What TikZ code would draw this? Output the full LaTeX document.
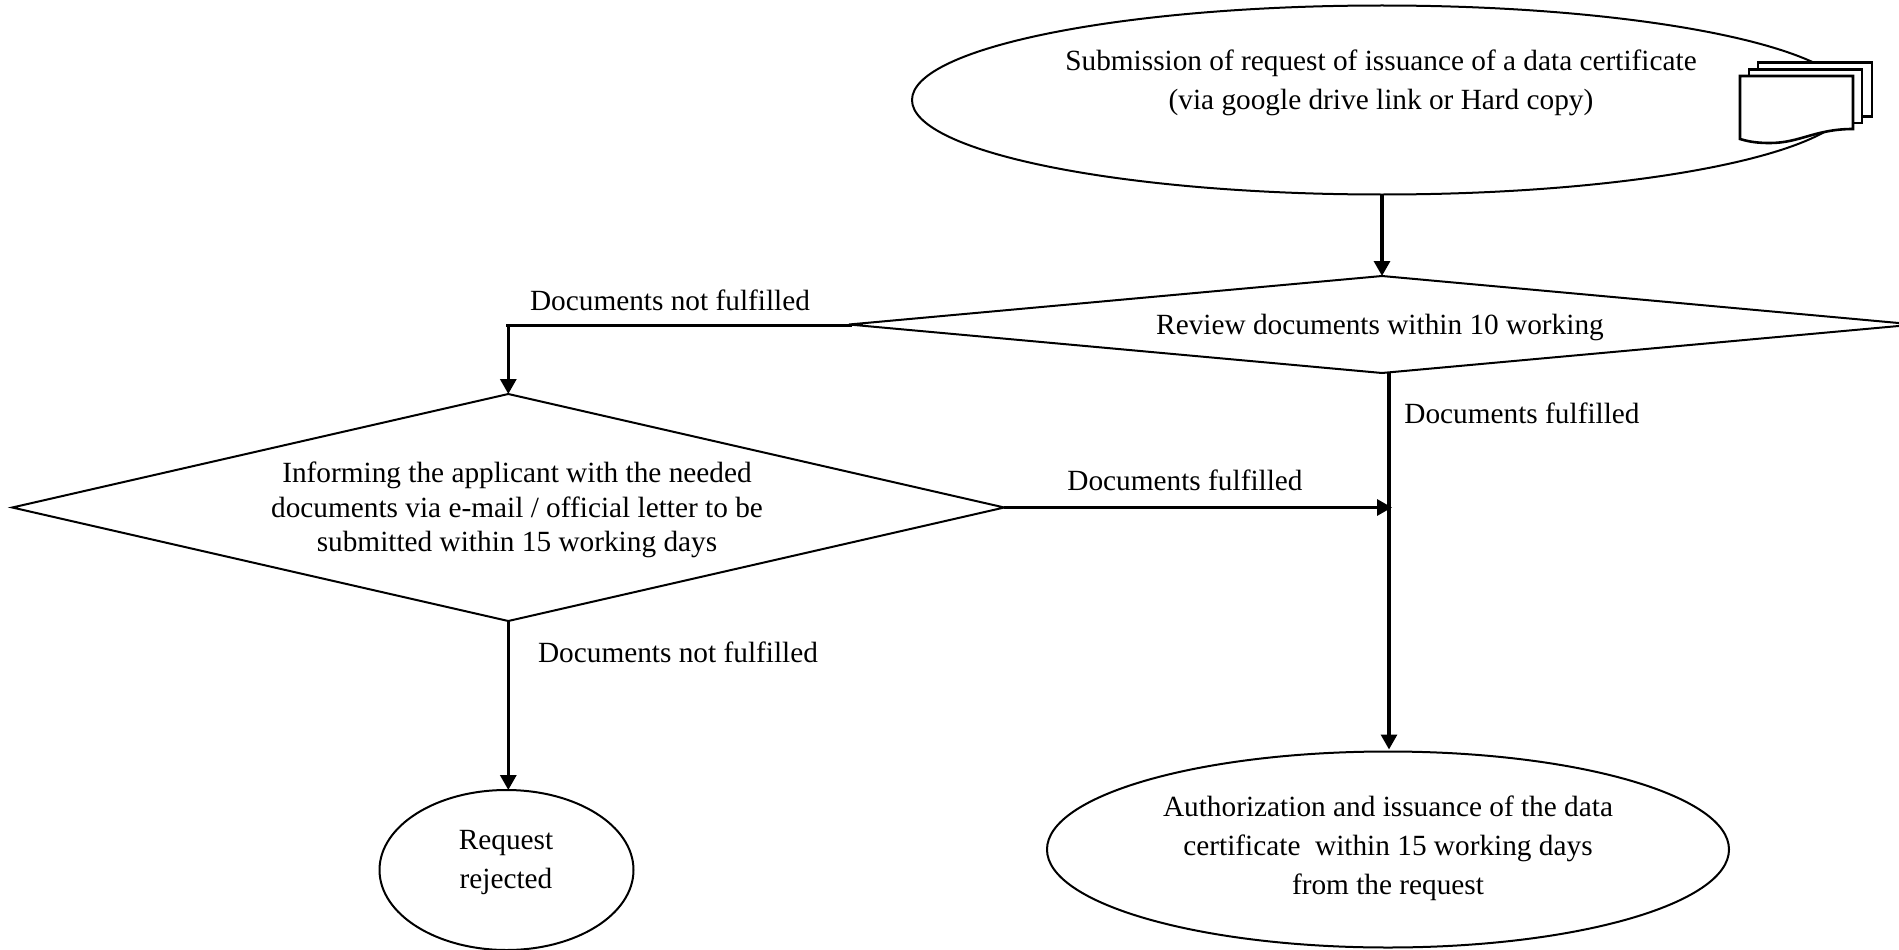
\documentclass[tikz,border=0pt]{standalone}
\usepackage{fontspec}
\setmainfont{Liberation Serif}
\usetikzlibrary{shapes.geometric,arrows.meta}
\tikzset{
  x=1pt,y=-1pt,
  shapeline/.style={draw=black,line width=2pt,fill=white},
  oval/.style={shapeline,ellipse,inner sep=0pt,outer sep=0pt},
  rhomb/.style={shapeline,diamond,inner sep=0pt,outer sep=0pt},
  txt/.style={align=center,inner sep=0pt,font=\fontsize{29.3}{39.2}\selectfont},
  tighttxt/.style={align=center,inner sep=0pt,font=\fontsize{29.3}{34.6}\selectfont},
  conn/.style={draw=black,line width=3.2pt,-{Triangle[length=15pt,width=16pt]}},
  plainconn/.style={draw=black,line width=3.2pt},
  sheet/.style={draw=black,line width=2.6pt,fill=white,line join=miter}
}
\begin{document}
\begin{tikzpicture}
\useasboundingbox (0,0) rectangle (1899,950);
\clip (0,0) rectangle (1899,950);
% shapes
\node[oval,minimum width=940pt,minimum height=189pt] (top) at (1382,100) {};
\node[rhomb,shape aspect=10.99,minimum width=1066pt,minimum height=97pt] (rev) at (1382,324.5) {};
\node[rhomb,shape aspect=4.37,minimum width=992pt,minimum height=227pt] (inf) at (508.3,507.5) {};
\node[oval,minimum width=254pt,minimum height=160pt] (rej) at (506.5,870) {};
\node[oval,minimum width=682pt,minimum height=196pt] (auth) at (1388,849.5) {};
% document stack
\draw[sheet] (1758,62.7) -- (1872,62.7) -- (1872,116.7) -- (1758,116.7) -- cycle;
\draw[sheet] (1749,69.7) -- (1862,69.7) -- (1862,123) -- (1749,123) -- cycle;
\draw[sheet] (1740,76) -- (1853,76) -- (1853,129) .. controls (1815,129) and (1800,143) .. (1770,143) .. controls (1758,143) and (1750,142) .. (1740,139) -- cycle;
% helper points
\coordinate (s0) at (852,325.7);
\coordinate (c1) at (506,325.7);
\coordinate (s1) at (1389,373);
\coordinate (j1) at (1392,507.5);
% connectors
\draw[conn] (top.south) -- (rev.north);
\draw[plainconn] (s0) -- (c1);
\draw[conn] (inf.north |- c1) -- (inf.north);
\draw[conn,shorten >=2pt] (s1) -- (auth.north -| s1);
\draw[conn] (inf.east) -- (j1);
\draw[conn] (inf.south) -- (inf.south |- rej.north);
% texts
\node[txt] (t1) at (1381,82.5) {Submission of request of issuance of a data certificate\\(via google drive link or Hard copy)};
\node[txt] (t2) at (1380,327.4) {Review documents within 10 working};
\node[tighttxt] (t3) at (517,510) {Informing the applicant with the needed\\documents via e-mail / official letter to be\\submitted within 15 working days};
\node[txt] (t4) at (506,862.5) {Request\\rejected};
\node[txt] (t5) at (1388,848) {Authorization and issuance of the data\\certificate\ \ within 15 working days\\from the request};
\node[txt] (l1) at (670,300) {Documents not fulfilled};
\node[txt] (l2) at (1522,413) {Documents fulfilled};
\node[txt] (l3) at (1185,480) {Documents fulfilled};
\node[txt] (l4) at (678,652) {Documents not fulfilled};
\end{tikzpicture}
\end{document}
